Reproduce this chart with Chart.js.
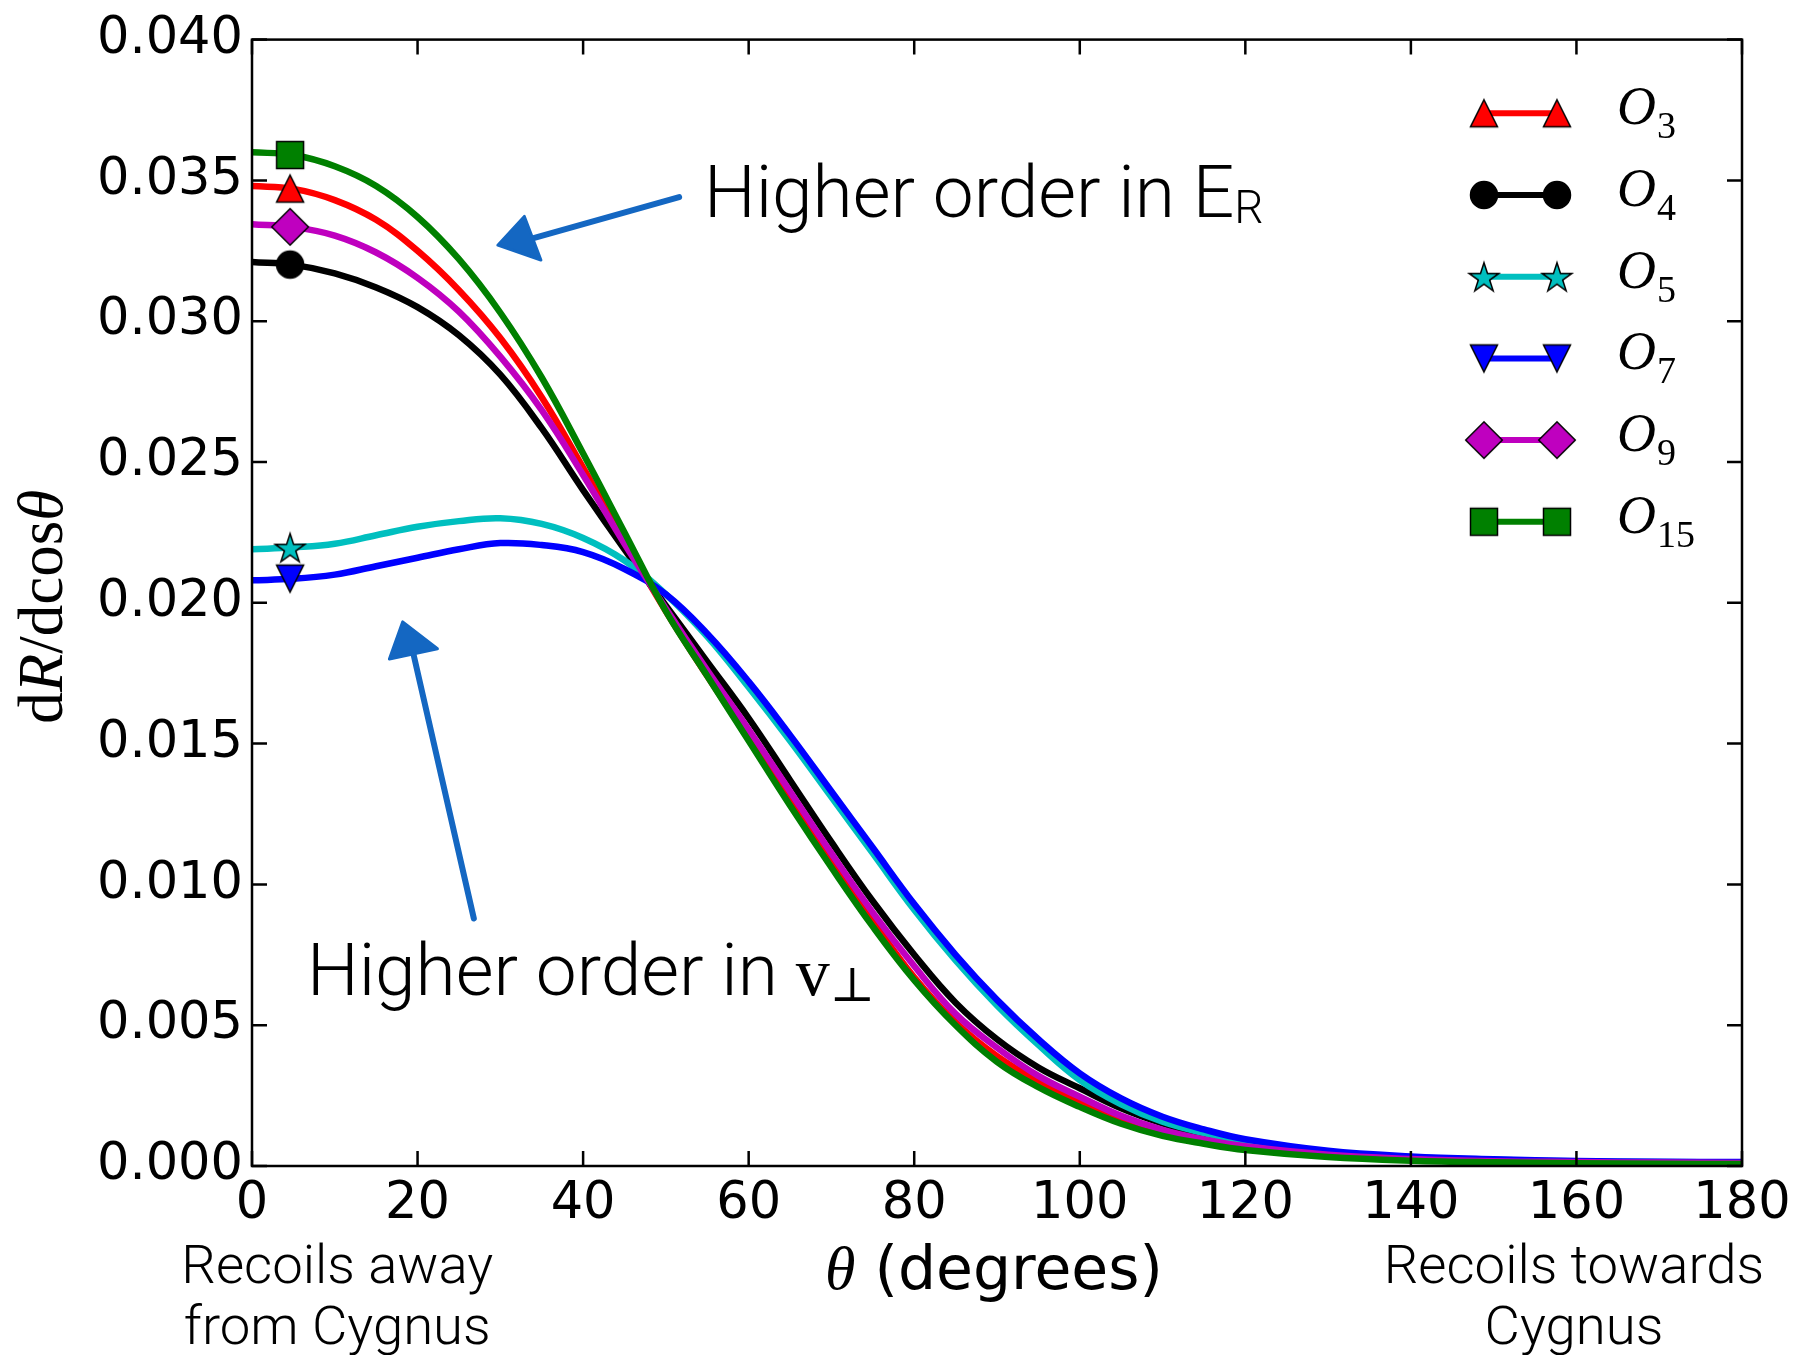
<!DOCTYPE html>
<html>
<head>
<meta charset="utf-8">
<title>dR/dcosθ vs θ</title>
<script src="https://cdn.jsdelivr.net/npm/chart.js@4.4.1/dist/chart.umd.min.js"></script>
<style>
  html, body { margin: 0; padding: 0; background: #fff; }
  #wrap { position: relative; width: 1804px; height: 1355px; }
</style>
</head>
<body>
<div id="wrap"><canvas id="chart" width="1804" height="1355"></canvas></div>
<script>
// Recoil angle grid (degrees), shared by all operators
const theta = [0, 5, 10, 15, 20, 25, 30, 35, 40, 45, 50, 55, 60, 65, 70, 75, 80, 85, 90, 95, 100, 105, 110, 115, 120, 130, 140, 150, 160, 170, 180];

// dR/dcos(theta) for each operator
const rateO3  = [0.0348, 0.0347, 0.0343, 0.0336, 0.0325, 0.0311, 0.0294, 0.0273, 0.0248, 0.0222, 0.0197, 0.0174, 0.0152, 0.0130, 0.0108, 0.0087, 0.0067, 0.0051, 0.0039, 0.0030, 0.00228, 0.00165, 0.00118, 0.00087, 0.00063, 0.00036, 0.00022, 0.00015, 0.00012, 0.0001, 0.00009];
const rateO4  = [0.0321, 0.0320, 0.0317, 0.0312, 0.0305, 0.0295, 0.0281, 0.0262, 0.0240, 0.0219, 0.0199, 0.0179, 0.0159, 0.0137, 0.0115, 0.0094, 0.0075, 0.0058, 0.0045, 0.0035, 0.00276, 0.00205, 0.00151, 0.0011, 0.0008, 0.00045, 0.00027, 0.00018, 0.00013, 0.00011, 0.0001];
const rateO5  = [0.0219, 0.02197, 0.0221, 0.0224, 0.0227, 0.0229, 0.0230, 0.0228, 0.0223, 0.0215, 0.0203, 0.0188, 0.0170, 0.0151, 0.0131, 0.0111, 0.0091, 0.0073, 0.0057, 0.0043, 0.00305, 0.00219, 0.00157, 0.00117, 0.00088, 0.0005, 0.00031, 0.00022, 0.00017, 0.00014, 0.00013];
const rateO7  = [0.0208, 0.02085, 0.0210, 0.0213, 0.0216, 0.0219, 0.02212, 0.02205, 0.0218, 0.0212, 0.0203, 0.0189, 0.0172, 0.0153, 0.0133, 0.0113, 0.0093, 0.0075, 0.0059, 0.0045, 0.00329, 0.0024, 0.00175, 0.0013, 0.00095, 0.00054, 0.00034, 0.00024, 0.00018, 0.00015, 0.00014];
const rateO9  = [0.03344, 0.03334, 0.03304, 0.03244, 0.03154, 0.03034, 0.02874, 0.02684, 0.02454, 0.0221, 0.0198, 0.0176, 0.0155, 0.0133, 0.0111, 0.0090, 0.0071, 0.0054, 0.0042, 0.0032, 0.00246, 0.00178, 0.00128, 0.00094, 0.0007, 0.0004, 0.00025, 0.00017, 0.00014, 0.00012, 0.00011];
const rateO15 = [0.0360, 0.0359, 0.0355, 0.0348, 0.0337, 0.0322, 0.0303, 0.0280, 0.0253, 0.0225, 0.0197, 0.0174, 0.0151, 0.0128, 0.0106, 0.0085, 0.0066, 0.0050, 0.0037, 0.0028, 0.0021, 0.0015, 0.00107, 0.00079, 0.00057, 0.00032, 0.00019, 0.00013, 0.0001, 0.00008, 0.00007];

// Series meta (legend order)
const seriesNames   = ['3', '4', '5', '7', '9', '15'];
const seriesRates   = [rateO3, rateO4, rateO5, rateO7, rateO9, rateO15];
const seriesColors  = ['#ff0000', '#000000', '#00bfbf', '#0000ff', '#bf00bf', '#008000'];
const seriesMarkers = ['^', 'o', '*', 'v', 'D', 's'];

// Single marker on each curve
const markerTheta  = 4.6;
const markerValues = [0.03471, 0.03201, 0.02196, 0.02086, 0.03335, 0.0359];

// Axis ticks
const xTickValues = [0, 20, 40, 60, 80, 100, 120, 140, 160, 180];
const yTickValues = [0, 0.005, 0.010, 0.015, 0.020, 0.025, 0.030, 0.035, 0.040];

// Hand-drawn arrows, in data units: tail, tip, two wing corners
const arrowER = { tail: [51.6, 0.03441], tip: [29.7, 0.0327], wings: [[32.9, 0.03372], [34.9, 0.03217]] };
const arrowV  = { tail: [26.8, 0.00879], tip: [18.2, 0.01932], wings: [[16.6, 0.01800], [22.4, 0.01837]] };

const LIGHT = 'Roboto, "Liberation Sans", sans-serif';
const SERIF = '"Liberation Serif", "DejaVu Serif", serif';

// matplotlib-like marker glyphs
function makeMarker(shape, fill) {
  const s = 46, c = s / 2, ms = 27;
  const cv = document.createElement('canvas');
  cv.width = s; cv.height = s;
  const g = cv.getContext('2d');
  g.beginPath();
  if (shape === '^') {
    g.moveTo(c, c - ms / 2); g.lineTo(c + ms / 2, c + ms / 2); g.lineTo(c - ms / 2, c + ms / 2); g.closePath();
  } else if (shape === 'v') {
    g.moveTo(c, c + ms / 2); g.lineTo(c + ms / 2, c - ms / 2); g.lineTo(c - ms / 2, c - ms / 2); g.closePath();
  } else if (shape === 'o') {
    g.arc(c, c, ms / 2, 0, Math.PI * 2);
  } else if (shape === 's') {
    g.rect(c - ms / 2, c - ms / 2, ms, ms);
  } else if (shape === 'D') {
    const r = 18.3;
    g.moveTo(c, c - r); g.lineTo(c + r, c); g.lineTo(c, c + r); g.lineTo(c - r, c); g.closePath();
  } else if (shape === '*') {
    const R = 15.6, r = R * 0.382;
    for (let k = 0; k < 10; k++) {
      const ang = -Math.PI / 2 + k * Math.PI / 5;
      const rr = k % 2 ? r : R;
      const px = c + rr * Math.cos(ang), py = c + 1.5 + rr * Math.sin(ang);
      k ? g.lineTo(px, py) : g.moveTo(px, py);
    }
    g.closePath();
  }
  g.fillStyle = fill;
  g.fill();
  g.lineWidth = 1.5;
  g.strokeStyle = '#000';
  g.stroke();
  return cv;
}
const markerImgs = seriesMarkers.map((m, i) => makeMarker(m, seriesColors[i]));

// Draw a row of text pieces with different fonts
function drawRuns(ctx, runs, x, y, align) {
  let total = 0;
  const widths = runs.map(r => { ctx.font = r[1]; const w = ctx.measureText(r[0]).width; total += w; return w; });
  let cx = align === 'center' ? x - total / 2 : x;
  runs.forEach((r, i) => { ctx.font = r[1]; ctx.fillText(r[0], cx, y + (r[2] || 0)); cx += widths[i]; });
}

function drawArrow(ctx, xs, ys, a) {
  const P = p => [xs.getPixelForValue(p[0]), ys.getPixelForValue(p[1])];
  const tail = P(a.tail), tip = P(a.tip), w1 = P(a.wings[0]), w2 = P(a.wings[1]);
  const base = [(w1[0] + w2[0]) / 2, (w1[1] + w2[1]) / 2];
  ctx.strokeStyle = '#1467c2';
  ctx.fillStyle = '#1467c2';
  ctx.lineWidth = 6;
  ctx.lineCap = 'round';
  ctx.beginPath();
  ctx.moveTo(tail[0], tail[1]);
  ctx.lineTo(base[0], base[1]);
  ctx.stroke();
  ctx.lineJoin = 'round';
  ctx.lineWidth = 3;
  ctx.beginPath();
  ctx.moveTo(tip[0], tip[1]);
  ctx.lineTo(w1[0], w1[1]);
  ctx.lineTo(w2[0], w2[1]);
  ctx.closePath();
  ctx.fill();
  ctx.stroke();
}

const decorPlugin = {
  id: 'decor',
  afterDatasetsDraw(chart) {
    const { ctx, chartArea: a, scales: { x, y } } = chart;
    ctx.save();
    ctx.strokeStyle = '#000';
    ctx.lineWidth = 2.5;
    ctx.strokeRect(a.left, a.top, a.width, a.height);
    // inward ticks on all four sides
    const tl = 15;
    ctx.beginPath();
    xTickValues.forEach(v => {
      const px = x.getPixelForValue(v);
      ctx.moveTo(px, a.bottom); ctx.lineTo(px, a.bottom - tl);
      ctx.moveTo(px, a.top); ctx.lineTo(px, a.top + tl);
    });
    yTickValues.forEach(v => {
      const py = y.getPixelForValue(v);
      ctx.moveTo(a.left, py); ctx.lineTo(a.left + tl, py);
      ctx.moveTo(a.right, py); ctx.lineTo(a.right - tl, py);
    });
    ctx.stroke();
    ctx.restore();
  },
  afterDraw(chart) {
    const { ctx, chartArea: a, scales: { x, y } } = chart;
    ctx.save();
    ctx.fillStyle = '#000';
    ctx.textBaseline = 'alphabetic';
    ctx.textAlign = 'left';

    // y title, rotated
    ctx.save();
    ctx.translate(62, (a.top + a.bottom) / 2 + 4);
    ctx.rotate(-Math.PI / 2);
    drawRuns(ctx, [
      ['d', `63px ${SERIF}`], ['R', `italic 63px ${SERIF}`],
      ['/dcos', `63px ${SERIF}`], ['θ', `italic 63px ${SERIF}`]
    ], 0, 0, 'center');
    ctx.restore();

    // x title
    drawRuns(ctx, [
      ['θ', `italic 62px ${SERIF}`], [' (degrees)', '60px "DejaVu Sans"']
    ], x.getPixelForValue(90) - 3, a.bottom + 123, 'center');

    // direction notes under the axis
    ctx.font = `300 54.5px ${LIGHT}`;
    ctx.textAlign = 'center';
    ctx.fillText('Recoils away', x.getPixelForValue(10.3), a.bottom + 117);
    ctx.fillText('from Cygnus', x.getPixelForValue(10.3), a.bottom + 178);
    ctx.fillText('Recoils towards', x.getPixelForValue(159.7), a.bottom + 117);
    ctx.fillText('Cygnus', x.getPixelForValue(159.7), a.bottom + 178);
    ctx.textAlign = 'left';

    // annotations inside the plot
    drawRuns(ctx, [
      ['Higher order in E', `300 73px ${LIGHT}`], ['R', `300 46px ${LIGHT}`, 6]
    ], x.getPixelForValue(54.6), y.getPixelForValue(0.03369), 'left');
    drawRuns(ctx, [
      ['Higher order in ', `300 73px ${LIGHT}`], ['v', `68px ${SERIF}`], ['⊥', `48px "DejaVu Serif", serif`, 6]
    ], x.getPixelForValue(6.64), y.getPixelForValue(0.00606), 'left');

    drawArrow(ctx, x, y, arrowER);
    drawArrow(ctx, x, y, arrowV);

    // legend: line with a marker at each end, then the label
    seriesNames.forEach((name, i) => {
      const ry = a.top + 73.7 + i * 81.7;
      const x1 = a.right - 258, x2 = a.right - 185;
      ctx.strokeStyle = seriesColors[i];
      ctx.lineWidth = 6;
      ctx.lineCap = 'butt';
      ctx.beginPath();
      ctx.moveTo(x1, ry); ctx.lineTo(x2, ry);
      ctx.stroke();
      const img = markerImgs[i];
      ctx.drawImage(img, x1 - img.width / 2, ry - img.height / 2);
      ctx.drawImage(img, x2 - img.width / 2, ry - img.height / 2);
      ctx.fillStyle = '#000';
      ctx.font = `italic 54px ${SERIF}`;
      const ox = a.right - 125;
      ctx.fillText('O', ox, ry + 11);
      const ow = ctx.measureText('O').width;
      ctx.font = `38px ${SERIF}`;
      ctx.fillText(name, ox + ow + 1, ry + 25);
    });
    ctx.restore();
  }
};

const lineSets = seriesRates.map((vals, i) => ({
  label: 'O' + seriesNames[i],
  data: theta.map((t, k) => ({ x: t, y: vals[k] })),
  borderColor: seriesColors[i],
  borderWidth: 6.5,
  pointRadius: 0,
  fill: false,
  tension: 0.4,
  clip: 0,
  order: seriesNames.length - i + 1
}));

const markerSets = seriesNames.map((name, i) => ({
  label: 'marker O' + name,
  data: [{ x: markerTheta, y: markerValues[i] }],
  showLine: false,
  pointStyle: markerImgs[i],
  pointRadius: 10,
  clip: false,
  order: 1 - i / 10
}));

new Chart(document.getElementById('chart'), {
  type: 'line',
  data: { datasets: [...lineSets, ...markerSets] },
  options: {
    responsive: false,
    maintainAspectRatio: false,
    devicePixelRatio: 1,
    animation: false,
    events: [],
    layout: { padding: { top: 38, right: 62, bottom: 0, left: 0 } },
    plugins: { legend: { display: false }, tooltip: { enabled: false } },
    scales: {
      x: {
        type: 'linear',
        min: 0,
        max: 180,
        afterBuildTicks: s => { s.ticks = xTickValues.map(v => ({ value: v })); },
        afterFit: s => { s.height = 189; },
        grid: { display: false, drawTicks: false },
        border: { display: false },
        ticks: {
          autoSkip: false,
          maxRotation: 0,
          padding: 8,
          color: '#000',
          font: { family: 'DejaVu Sans', size: 51 },
          callback: v => String(v)
        }
      },
      y: {
        type: 'linear',
        min: 0,
        max: 0.04,
        afterBuildTicks: s => { s.ticks = yTickValues.map(v => ({ value: v })); },
        afterFit: s => { s.width = 252; },
        grid: { display: false, drawTicks: false },
        border: { display: false },
        ticks: {
          autoSkip: false,
          padding: 9,
          color: '#000',
          font: { family: 'DejaVu Sans', size: 51 },
          callback: v => Number(v).toFixed(3)
        }
      }
    }
  },
  plugins: [decorPlugin]
});
</script>
</body>
</html>
